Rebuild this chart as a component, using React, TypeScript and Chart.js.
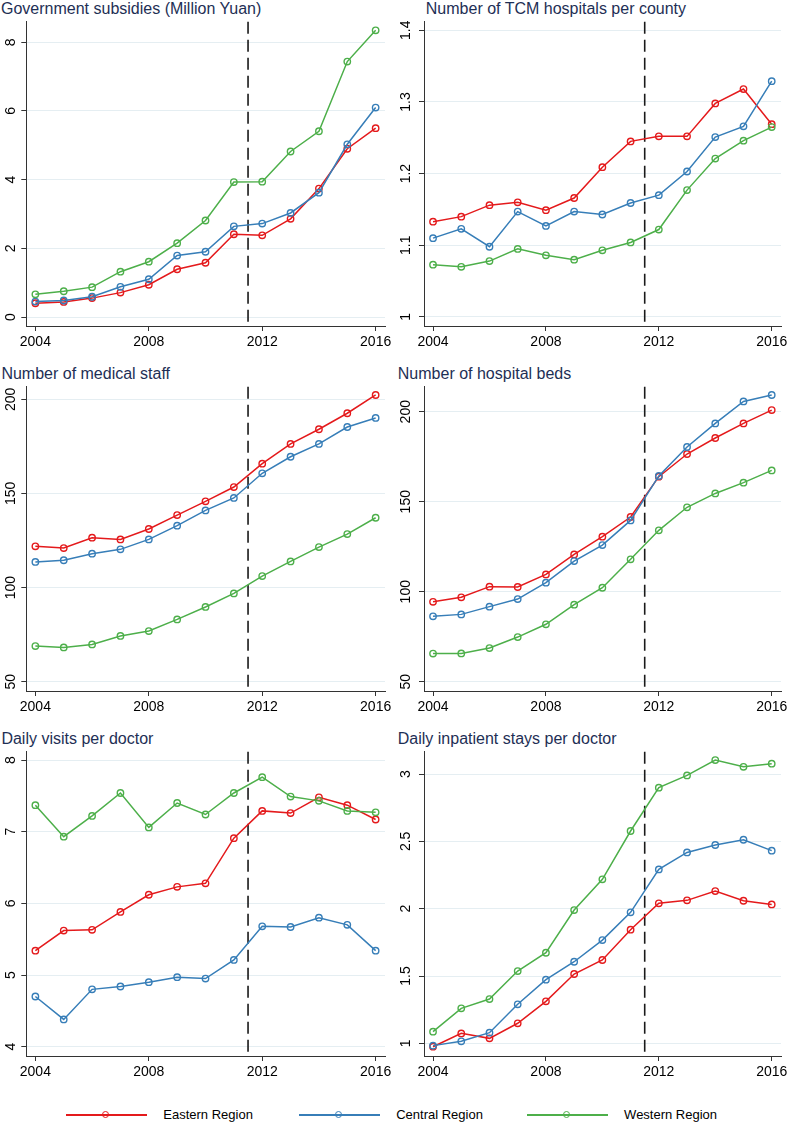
import React, { useEffect, useRef } from "react";
import { Chart, registerables } from "chart.js";

Chart.register(...registerables);

// ---------------- data ----------------
const YEARS = [2004, 2005, 2006, 2007, 2008, 2009, 2010, 2011, 2012, 2013, 2014, 2015, 2016];
const X_TICKS = [2004, 2008, 2012, 2016];
const POLICY_YEAR = 2011.5;
const X_MIN = 2003.68;
const X_MAX = 2016.33;

const REGION_NAMES = ["Eastern Region", "Central Region", "Western Region"];
const REGION_COLORS = ["#e41a1c", "#377eb8", "#4daf4a"];

// Panel 1
const SUBSIDY_TITLE = "Government subsidies (Million Yuan)";
const SUBSIDY_EAST = [0.40, 0.44, 0.55, 0.71, 0.94, 1.39, 1.58, 2.41, 2.38, 2.86, 3.74, 4.90, 5.50];
const SUBSIDY_CENTRAL = [0.45, 0.48, 0.59, 0.88, 1.10, 1.79, 1.90, 2.64, 2.72, 3.03, 3.62, 5.03, 6.10];
const SUBSIDY_WEST = [0.66, 0.75, 0.87, 1.32, 1.61, 2.15, 2.81, 3.93, 3.94, 4.82, 5.41, 7.44, 8.35];
const SUBSIDY_TICKS = [0, 2, 4, 6, 8];
const SUBSIDY_RANGE = [-0.262, 8.6];

// Panel 2
const TCM_TITLE = "Number of TCM hospitals per county";
const TCM_EAST = [1.133, 1.140, 1.156, 1.160, 1.149, 1.166, 1.209, 1.245, 1.252, 1.252, 1.298, 1.318, 1.269];
const TCM_CENTRAL = [1.110, 1.123, 1.098, 1.147, 1.127, 1.147, 1.143, 1.159, 1.170, 1.203, 1.251, 1.266, 1.329];
const TCM_WEST = [1.073, 1.070, 1.078, 1.095, 1.086, 1.080, 1.093, 1.104, 1.122, 1.177, 1.221, 1.246, 1.265];
const TCM_TICKS = [1, 1.1, 1.2, 1.3, 1.4];
const TCM_RANGE = [0.9874, 1.412];

// Panel 3
const STAFF_TITLE = "Number of medical staff";
const STAFF_EAST = [121.9, 121.0, 126.5, 125.6, 131.1, 138.5, 145.8, 153.4, 165.8, 176.3, 184.1, 192.6, 202.3];
const STAFF_CENTRAL = [113.6, 114.5, 118.0, 120.3, 125.6, 132.9, 141.0, 147.6, 160.7, 169.5, 176.3, 185.3, 190.1];
const STAFF_WEST = [68.9, 68.2, 69.8, 74.3, 76.9, 83.1, 89.7, 96.9, 106.1, 113.9, 121.5, 128.4, 137.1];
const STAFF_TICKS = [50, 100, 150, 200];
const STAFF_RANGE = [45.06, 206.7];

// Panel 4
const BEDS_TITLE = "Number of hospital beds";
const BEDS_EAST = [94.4, 96.9, 102.8, 102.6, 109.6, 120.7, 130.6, 141.5, 163.9, 176.5, 185.4, 193.5, 200.9];
const BEDS_CENTRAL = [86.3, 87.4, 91.7, 95.9, 105.0, 117.0, 125.9, 139.6, 164.3, 180.4, 193.5, 205.7, 209.3];
const BEDS_WEST = [65.6, 65.7, 68.7, 74.8, 81.9, 92.8, 102.2, 118.0, 134.1, 146.9, 154.6, 160.6, 167.4];
const BEDS_TICKS = [50, 100, 150, 200];
const BEDS_RANGE = [44.83, 213.9];

// Panel 5
const VISITS_TITLE = "Daily visits per doctor";
const VISITS_EAST = [5.34, 5.62, 5.63, 5.88, 6.12, 6.23, 6.28, 6.91, 7.29, 7.26, 7.48, 7.37, 7.17];
const VISITS_CENTRAL = [4.70, 4.38, 4.80, 4.84, 4.90, 4.97, 4.95, 5.21, 5.68, 5.67, 5.80, 5.70, 5.34];
const VISITS_WEST = [7.37, 6.93, 7.22, 7.54, 7.06, 7.40, 7.24, 7.54, 7.76, 7.49, 7.43, 7.29, 7.27];
const VISITS_TICKS = [4, 5, 6, 7, 8];
const VISITS_RANGE = [3.87, 8.116];

// Panel 6
const STAYS_TITLE = "Daily inpatient stays per doctor";
const STAYS_EAST = [0.975, 1.074, 1.037, 1.149, 1.312, 1.515, 1.619, 1.844, 2.040, 2.062, 2.131, 2.059, 2.032];
const STAYS_CENTRAL = [0.983, 1.015, 1.079, 1.290, 1.473, 1.606, 1.767, 1.973, 2.292, 2.418, 2.473, 2.512, 2.431];
const STAYS_WEST = [1.087, 1.260, 1.329, 1.537, 1.673, 1.990, 2.218, 2.577, 2.899, 2.990, 3.104, 3.054, 3.077];
const STAYS_TICKS = [1, 1.5, 2, 2.5, 3];
const STAYS_RANGE = [0.906, 3.166];

// ---------------- layout / style ----------------
const FONT_FAMILY = "'Liberation Sans', Arial, Helvetica, sans-serif";
const TITLE_COLOR = "#1e2f55";
const AXIS_COLOR = "#333333";
const GRID_COLOR = "#e5eef2";
const TICK_FONT_SIZE = 14;
const CANVAS_W = 395;
const CANVAS_H = 365;
const COL_X = [0, 395];
const ROW_Y = [0, 365, 730];
const AXIS_W = [26.3, 29];
const PAD_RIGHT = [10, 8.3];
const PLOT_TOP = 21.7;
const PLOT_BOTTOM = 326;
const X_AXIS_H = 30;
const TICK_LEN = 5;
const YLABEL_CENTER = 11;

type PanelDef = {
  title: string;
  titleLeft: number;
  col: number;
  row: number;
  series: number[][];
  yTicks: number[];
  yRange: number[];
};

const PANELS: PanelDef[] = [
  { title: SUBSIDY_TITLE, titleLeft: 1, col: 0, row: 0, series: [SUBSIDY_EAST, SUBSIDY_CENTRAL, SUBSIDY_WEST], yTicks: SUBSIDY_TICKS, yRange: SUBSIDY_RANGE },
  { title: TCM_TITLE, titleLeft: 30.8, col: 1, row: 0, series: [TCM_EAST, TCM_CENTRAL, TCM_WEST], yTicks: TCM_TICKS, yRange: TCM_RANGE },
  { title: STAFF_TITLE, titleLeft: 1.4, col: 0, row: 1, series: [STAFF_EAST, STAFF_CENTRAL, STAFF_WEST], yTicks: STAFF_TICKS, yRange: STAFF_RANGE },
  { title: BEDS_TITLE, titleLeft: 2.8, col: 1, row: 1, series: [BEDS_EAST, BEDS_CENTRAL, BEDS_WEST], yTicks: BEDS_TICKS, yRange: BEDS_RANGE },
  { title: VISITS_TITLE, titleLeft: 1.4, col: 0, row: 2, series: [VISITS_EAST, VISITS_CENTRAL, VISITS_WEST], yTicks: VISITS_TICKS, yRange: VISITS_RANGE },
  { title: STAYS_TITLE, titleLeft: 2.8, col: 1, row: 2, series: [STAYS_EAST, STAYS_CENTRAL, STAYS_WEST], yTicks: STAYS_TICKS, yRange: STAYS_RANGE },
];

const LEGEND_X = [65.8, 298.7, 526.6];
const LEGEND_Y = 1115;

function widestLabel(labels: string[], sizePx: number): number {
  const c = document.createElement("canvas").getContext("2d");
  if (!c) return 0;
  c.font = `normal ${sizePx}px ${FONT_FAMILY}`;
  let w = 0;
  labels.forEach((l) => {
    w = Math.max(w, c.measureText(l).width);
  });
  return w;
}

const policyLinePlugin = {
  id: "policyLine",
  beforeDatasetsDraw(chart: any) {
    const { ctx, chartArea, scales } = chart;
    const x = scales.x.getPixelForValue(POLICY_YEAR);
    ctx.save();
    ctx.strokeStyle = "#1a1a1a";
    ctx.lineWidth = 1.6;
    ctx.setLineDash([12, 6]);
    ctx.beginPath();
    ctx.moveTo(x, chartArea.top);
    ctx.lineTo(x, chartArea.bottom);
    ctx.stroke();
    ctx.restore();
  },
};

function Panel({ def }: { def: PanelDef }) {
  const ref = useRef<HTMLCanvasElement | null>(null);

  useEffect(() => {
    if (!ref.current) return;
    const axisW = AXIS_W[def.col];
    const yLabels = def.yTicks.map((v) => String(v));
    const widest = widestLabel(yLabels, TICK_FONT_SIZE);
    const yPad = axisW - TICK_LEN - widest / 2 - YLABEL_CENTER;

    const datasets = def.series.map((vals, i) => ({
      label: REGION_NAMES[i],
      data: YEARS.map((yr, j) => ({ x: yr, y: vals[j] })),
      borderColor: REGION_COLORS[i],
      backgroundColor: "transparent",
      borderWidth: 1.5,
      pointRadius: 3.2,
      pointBorderWidth: 1.4,
      pointBackgroundColor: "rgba(255,255,255,0)",
      pointBorderColor: REGION_COLORS[i],
      tension: 0,
      order: 3 - i,
    }));

    const chart = new Chart(ref.current, {
      type: "line",
      data: { datasets },
      plugins: [policyLinePlugin],
      options: {
        animation: false,
        responsive: false,
        maintainAspectRatio: false,
        devicePixelRatio: 1,
        events: [],
        layout: {
          padding: {
            left: 0,
            right: PAD_RIGHT[def.col],
            top: PLOT_TOP,
            bottom: CANVAS_H - PLOT_BOTTOM - X_AXIS_H,
          },
        },
        plugins: {
          legend: { display: false },
          tooltip: { enabled: false },
          title: { display: false },
        },
        scales: {
          x: {
            type: "linear",
            min: X_MIN,
            max: X_MAX,
            afterBuildTicks: (s: any) => {
              s.ticks = X_TICKS.map((v) => ({ value: v }));
            },
            afterFit: (s: any) => {
              s.height = X_AXIS_H;
            },
            ticks: {
              autoSkip: false,
              maxRotation: 0,
              minRotation: 0,
              padding: 2.5,
              color: "#000000",
              font: { family: FONT_FAMILY, size: TICK_FONT_SIZE },
              callback: (v: any) => String(v),
            },
            grid: {
              display: true,
              drawOnChartArea: false,
              drawTicks: true,
              tickLength: TICK_LEN,
              tickColor: AXIS_COLOR,
              tickWidth: 1,
            },
            border: { display: true, color: AXIS_COLOR, width: 1 },
          },
          y: {
            type: "linear",
            min: def.yRange[0],
            max: def.yRange[1],
            afterBuildTicks: (s: any) => {
              s.ticks = def.yTicks.map((v) => ({ value: v }));
            },
            afterFit: (s: any) => {
              s.width = axisW;
            },
            ticks: {
              autoSkip: false,
              minRotation: 90,
              maxRotation: 90,
              crossAlign: "center",
              padding: yPad,
              color: "#000000",
              font: { family: FONT_FAMILY, size: TICK_FONT_SIZE },
              callback: (v: any) => String(v),
            },
            grid: {
              display: true,
              drawOnChartArea: true,
              color: GRID_COLOR,
              lineWidth: 1,
              drawTicks: true,
              tickLength: TICK_LEN,
              tickColor: AXIS_COLOR,
              tickWidth: 1,
            },
            border: { display: true, color: AXIS_COLOR, width: 1 },
          },
        },
      } as any,
    });
    return () => chart.destroy();
  }, [def]);

  const left = COL_X[def.col];
  const top = ROW_Y[def.row];
  return (
    <>
      <div
        style={{
          position: "absolute",
          left: left + def.titleLeft,
          top: top + 0.5,
          fontFamily: FONT_FAMILY,
          fontSize: 16,
          lineHeight: "16px",
          color: TITLE_COLOR,
          whiteSpace: "nowrap",
        }}
      >
        {def.title}
      </div>
      <canvas
        ref={ref}
        width={CANVAS_W}
        height={CANVAS_H}
        style={{ position: "absolute", left, top, width: CANVAS_W, height: CANVAS_H }}
      />
    </>
  );
}

function Legend() {
  return (
    <>
      {REGION_NAMES.map((name, i) => {
        const x = LEGEND_X[i];
        return (
          <div key={name}>
            <div
              style={{
                position: "absolute",
                left: x,
                top: LEGEND_Y - 1,
                width: 81,
                height: 2,
                background: REGION_COLORS[i],
              }}
            />
            <div
              style={{
                position: "absolute",
                left: x + 40.5 - 4,
                top: LEGEND_Y - 4,
                width: 5,
                height: 5,
                borderRadius: "50%",
                border: `1.5px solid ${REGION_COLORS[i]}`,
                background: "transparent",
              }}
            />
            <div
              style={{
                position: "absolute",
                left: x + 97.5,
                top: LEGEND_Y - 8,
                fontFamily: FONT_FAMILY,
                fontSize: 13,
                lineHeight: "16px",
                color: "#000000",
                whiteSpace: "nowrap",
              }}
            >
              {name}
            </div>
          </div>
        );
      })}
    </>
  );
}

export default function App() {
  return (
    <div
      style={{
        position: "absolute",
        left: 0,
        top: 0,
        width: 790,
        height: 1125,
        background: "#ffffff",
        overflow: "hidden",
      }}
    >
      {PANELS.map((p) => (
        <Panel key={p.title} def={p} />
      ))}
      <Legend />
    </div>
  );
}
